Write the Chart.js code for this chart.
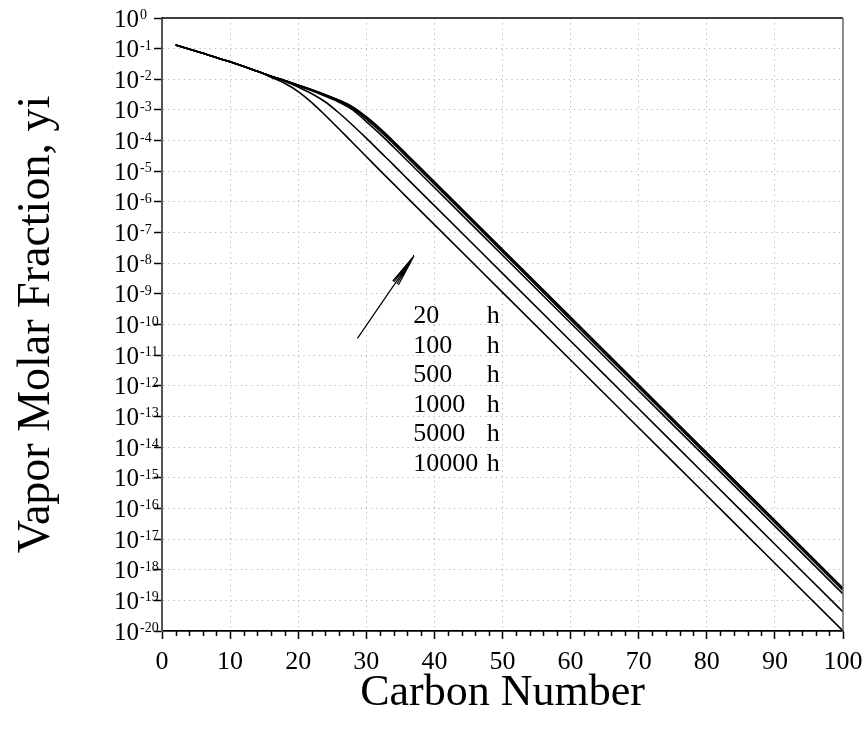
<!DOCTYPE html>
<html>
<head>
<meta charset="utf-8">
<title>Vapor Molar Fraction vs Carbon Number</title>
<script src="https://cdn.jsdelivr.net/npm/chart.js@4.4.1/dist/chart.umd.min.js"></script>
<style>
  body { margin: 0; background: #fff; }
  #wrap { width: 868px; height: 735px; }
</style>
</head>
<body>
<div id="wrap"><canvas id="chart" width="868" height="735"></canvas></div>
<script>
const carbon = [2, 6, 10, 14, 16, 18, 20, 22, 24, 26, 28, 30, 32, 34, 36, 40, 50, 60, 70, 80, 90, 100]

// log10 of the vapor molar fraction, one array per time
const log20h    = [-0.88, -1.15, -1.43, -1.74, -1.93, -2.13, -2.40, -2.76, -3.18, -3.62, -4.07, -4.52, -4.97, -5.41, -5.86, -6.74, -8.95, -11.16, -13.37, -15.58, -17.79, -20.00]
const log100h   = [-0.88, -1.15, -1.43, -1.74, -1.90, -2.06, -2.25, -2.47, -2.74, -3.10, -3.50, -3.92, -4.36, -4.79, -5.24, -6.12, -8.33, -10.54, -12.75, -14.96, -17.17, -19.38]
const log500h   = [-0.88, -1.15, -1.43, -1.74, -1.90, -2.04, -2.21, -2.37, -2.55, -2.75, -3.00, -3.38, -3.78, -4.21, -4.65, -5.53, -7.74, -9.95, -12.16, -14.37, -16.58, -18.79]
const log1000h  = [-0.88, -1.15, -1.43, -1.74, -1.90, -2.04, -2.20, -2.35, -2.52, -2.71, -2.95, -3.30, -3.68, -4.10, -4.54, -5.42, -7.63, -9.84, -12.05, -14.26, -16.47, -18.68]
const log5000h  = [-0.88, -1.15, -1.43, -1.74, -1.90, -2.04, -2.19, -2.34, -2.51, -2.69, -2.92, -3.25, -3.62, -4.04, -4.48, -5.36, -7.57, -9.78, -11.99, -14.20, -16.41, -18.62]
const log10000h = [-0.88, -1.15, -1.43, -1.74, -1.90, -2.04, -2.19, -2.34, -2.50, -2.68, -2.90, -3.22, -3.60, -4.02, -4.46, -5.34, -7.55, -9.76, -11.97, -14.18, -16.39, -18.60]

const timeLabels = ['20', '100', '500', '1000', '5000', '10000']
const yTickExp = [0, -1, -2, -3, -4, -5, -6, -7, -8, -9, -10, -11, -12, -13, -14, -15, -16, -17, -18, -19, -20]
const xTicks = [0, 10, 20, 30, 40, 50, 60, 70, 80, 90, 100]
const xMinorTicks = [2, 4, 6, 8, 12, 14, 16, 18, 22, 24, 26, 28, 32, 34, 36, 38, 42, 44, 46, 48, 52, 54, 56, 58, 62, 64, 66, 68, 72, 74, 76, 78, 82, 84, 86, 88, 92, 94, 96, 98]

const serif = "'Liberation Serif', 'Times New Roman', serif"

function toPoints(logs) {
    return carbon.map(function (c, i) {
        return { x: c, y: Math.pow(10, logs[i]) }
    })
}

const allSeries = [log20h, log100h, log500h, log1000h, log5000h, log10000h]
const datasets = allSeries.map(function (logs, i) {
    return {
        label: timeLabels[i] + ' h',
        data: toPoints(logs),
        borderColor: '#000',
        borderWidth: 1.6,
        pointRadius: 0,
        fill: false,
        tension: 0.3,
        cubicInterpolationMode: 'monotone'
    }
})

function gridColor(ctx, n) {
    if (ctx.index === 0 || ctx.index === n - 1) return 'rgba(0,0,0,0)'
    return '#b4b4b4'
}

// text, minor ticks, frame and the arrow note
const decorations = {
    id: 'decorations',
    afterDraw(chart) {
        const ctx = chart.ctx
        const a = chart.chartArea
        const xs = chart.scales.x
        const ys = chart.scales.y
        ctx.save()

        // top and right frame
        ctx.lineWidth = 1.5
        ctx.strokeStyle = '#000'
        ctx.beginPath()
        ctx.moveTo(a.left, a.top)
        ctx.lineTo(a.right, a.top)
        ctx.stroke()
        ctx.strokeStyle = '#666'
        ctx.beginPath()
        ctx.moveTo(a.right, a.top)
        ctx.lineTo(a.right, a.bottom)
        ctx.stroke()

        // minor ticks on the x axis
        ctx.strokeStyle = '#000'
        ctx.lineWidth = 1.5
        xMinorTicks.forEach(function (v) {
            const px = Math.round(xs.getPixelForValue(v)) + 0.5
            ctx.beginPath()
            ctx.moveTo(px, a.bottom)
            ctx.lineTo(px, a.bottom + 5)
            ctx.stroke()
        })

        ctx.fillStyle = '#000'
        ctx.textAlign = 'left'
        ctx.textBaseline = 'alphabetic'

        // y tick labels: 10 with a raised exponent
        yTickExp.forEach(function (e) {
            const py = ys.getPixelForValue(Math.pow(10, e))
            ctx.font = '25px ' + serif
            ctx.fillText('10', 114, py + 8.5)
            const w = ctx.measureText('10').width
            ctx.font = '14px ' + serif
            ctx.fillText(e === 0 ? '0' : '-' + (-e), 114 + w + 1, py + 1)
        })

        // x tick labels
        ctx.font = '26px ' + serif
        ctx.textAlign = 'center'
        xTicks.forEach(function (v) {
            ctx.fillText(String(v), xs.getPixelForValue(v), a.bottom + 38)
        })

        // axis titles
        ctx.font = '44px ' + serif
        ctx.fillText('Carbon Number', (a.left + a.right) / 2, a.bottom + 74)
        ctx.save()
        ctx.font = '46px ' + serif
        ctx.translate(49, (a.top + a.bottom) / 2)
        ctx.rotate(-Math.PI / 2)
        ctx.fillText('Vapor Molar Fraction, yi', 0, 0)
        ctx.restore()

        // arrow showing increasing time
        const x0 = xs.getPixelForValue(28.7), y0 = ys.getPixelForValue(Math.pow(10, -10.45))
        const x1 = xs.getPixelForValue(37.0), y1 = ys.getPixelForValue(Math.pow(10, -7.76))
        ctx.lineWidth = 1.2
        ctx.beginPath()
        ctx.moveTo(x0, y0)
        ctx.lineTo(x1, y1)
        const back = Math.atan2(y0 - y1, x0 - x1)
        ;[-0.11, -0.055, 0.055, 0.1].forEach(function (d) {
            ctx.moveTo(x1, y1)
            ctx.lineTo(x1 + 33 * Math.cos(back + d), y1 + 33 * Math.sin(back + d))
        })
        ctx.stroke()

        // time labels
        ctx.font = '26px ' + serif
        ctx.textAlign = 'left'
        const lx = xs.getPixelForValue(36.9)
        const hx = xs.getPixelForValue(47.7)
        const ly = ys.getPixelForValue(Math.pow(10, -9.96))
        timeLabels.forEach(function (t, i) {
            ctx.fillText(t, lx, ly + i * 29.5)
            ctx.fillText('h', hx, ly + i * 29.5)
        })

        ctx.restore()
    }
}

new Chart(document.getElementById('chart'), {
    type: 'line',
    data: { datasets: datasets },
    options: {
        responsive: false,
        animation: false,
        layout: { padding: { left: 0, right: 25, top: 18, bottom: 0 } },
        plugins: {
            legend: { display: false },
            tooltip: { enabled: false }
        },
        scales: {
            x: {
                type: 'linear',
                min: 0,
                max: 100,
                afterBuildTicks: function (s) {
                    s.ticks = xTicks.map(function (v) { return { value: v } })
                },
                afterFit: function (s) { s.height = 104 },
                ticks: { display: false },
                grid: {
                    color: function (ctx) { return gridColor(ctx, xTicks.length) },
                    tickColor: '#000',
                    tickLength: 8,
                    tickWidth: 1.5,
                    lineWidth: 1
                },
                border: { display: true, color: '#000', width: 1.8, dash: [1.2, 4] }
            },
            y: {
                type: 'logarithmic',
                min: 1e-20,
                max: 1,
                afterBuildTicks: function (s) {
                    s.ticks = yTickExp.map(function (e) { return { value: Math.pow(10, e) } })
                },
                afterFit: function (s) { s.width = 162 },
                ticks: { display: false },
                grid: {
                    color: function (ctx) { return gridColor(ctx, yTickExp.length) },
                    tickColor: '#000',
                    tickLength: 8,
                    tickWidth: 1.5,
                    lineWidth: 1
                },
                border: { display: true, color: '#555', width: 2, dash: [1.2, 4] }
            }
        }
    },
    plugins: [decorations]
})
</script>
</body>
</html>
